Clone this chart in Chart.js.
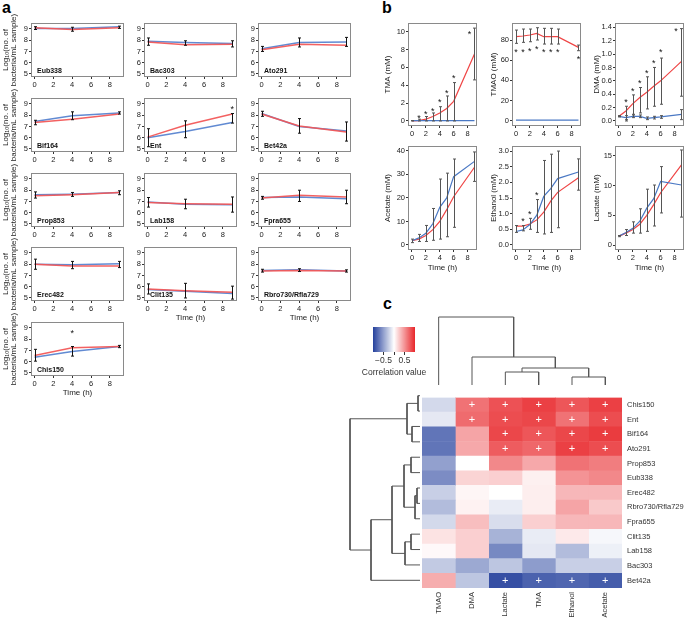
<!DOCTYPE html>
<html><head><meta charset="utf-8">
<script src="https://cdn.jsdelivr.net/npm/chart.js@4.4.1/dist/chart.umd.min.js"></script>
<style>
html,body{margin:0;padding:0;background:#fff;}
#root{position:relative;width:685px;height:618px;overflow:hidden;font-family:"Liberation Sans",Arial,sans-serif;}
.plabel{position:absolute;font-weight:bold;font-size:16px;line-height:16px;color:#000;}
canvas{position:absolute;}
</style></head><body><div id="root">
<div class="plabel" style="left:2px;top:0px">a</div>
<div class="plabel" style="left:382px;top:0px">b</div>
<div class="plabel" style="left:383px;top:296px">c</div>
</div>
<script>
// ================= DATA =================
// ---- Panel a: bacterial counts, log10(no. of bacteria/mL sample) ----
const timeA = [0, 4, 9];
const taxaA = ['Eub338','Bac303','Ato291','Bif164','Ent','Bet42a','Prop853','Lab158','Fpra655','Erec482','Clit135','Rbro730/Rfla729','Chis150'];
const countsRed = [
  [9.1, 8.95, 9.1], [7.85, 7.6, 7.65], [7.15, 7.65, 7.55], [7.35, 7.65, 8.1], [6.05, 7.1, 8.1],
  [8.1, 7.05, 6.5], [7.5, 7.6, 7.8], [6.9, 6.8, 6.75], [7.3, 7.55, 7.4], [8.0, 7.85, 7.85],
  [5.8, 5.65, 5.5], [7.4, 7.45, 7.4], [6.55, 7.25, 7.35]];
const countsBlue = [
  [9.05, 9.05, 9.2], [7.9, 7.8, 7.7], [7.25, 7.8, 7.85], [7.45, 7.95, 8.2], [6.0, 6.55, 7.35],
  [8.15, 7.0, 6.6], [7.6, 7.65, 7.8], [6.95, 6.75, 6.7], [7.35, 7.4, 7.25], [8.0, 7.95, 8.05],
  [5.75, 5.6, 5.4], [7.45, 7.5, 7.4], [6.4, 6.9, 7.35]];
const countsLo = [
  [8.95, 8.8, 9.05], [7.55, 7.55, 7.4], [7.0, 7.4, 7.45], [7.15, 7.6, 8.1], [5.2, 6.0, 7.3],
  [7.9, 6.4, 5.7], [7.3, 7.45, 7.6], [6.5, 6.35, 6.05], [7.2, 7.0, 6.8], [7.55, 7.6, 7.7],
  [5.35, 5.0, 4.9], [7.3, 7.35, 7.3], [6.05, 6.5, 7.25]];
const countsHi = [
  [9.2, 9.15, 9.25], [8.2, 7.95, 7.95], [7.45, 8.2, 8.25], [7.55, 8.3, 8.3], [6.8, 7.5, 8.15],
  [8.35, 7.7, 7.4], [7.85, 7.8, 7.95], [7.35, 7.2, 7.4], [7.45, 8.0, 8.0], [8.45, 8.25, 8.25],
  [6.25, 6.3, 6.05], [7.55, 7.6, 7.5], [7.1, 7.35, 7.45]];
const starTaxaA = ['Ent', 'Chis150'];
const starTimeA = [9, 4];
const starValA = [8.7, 8.7];
const xTicksA = [0, 2, 4, 6, 8];
const yTicksA = [5, 6, 7, 8, 9];

// ---- Panel b: metabolites (mM) ----
const timeB = [0, 1, 2, 3, 4, 5, 6, 9];
const xTicksB = [0, 2, 4, 6, 8];
const tmaRed  = [0, 0.05, 0.2, 0.5, 0.9, 1.4, 2.2, 7.5];
const tmaBlue = [0.05, 0.05, 0.05, 0.05, 0.05, 0.05, 0.05, 0.05];
const tmaLo   = [0, 0, 0, 0, 0, 0, 0, 4.6];
const tmaHi   = [0.05, 0.2, 0.5, 0.9, 1.6, 2.8, 4.3, 10.4];
const tmaStarT = [1, 2, 3, 4, 5, 6, 8.3];
const tmaStarY = [0.6, 0.95, 1.35, 2.3, 3.4, 5.0, 10.0];
const tmaTicks = [0, 2, 4, 6, 8, 10];

const tmaoRed  = [83.3, 84, 85, 86.6, 83.3, 83.3, 83.3, 72.7];
const tmaoBlue = [0.5, 0.5, 0.5, 0.5, 0.5, 0.5, 0.5, 0.5];
const tmaoLo   = [76.7, 77.7, 78.3, 80, 76, 76, 76, 69.4];
const tmaoHi   = [89.9, 90.9, 90.9, 92.2, 91.6, 91.6, 90.9, 75];
const tmaoStarT = [0, 1, 2, 3, 4, 5, 6, 9];
const tmaoStarY = [70, 70, 71, 73.4, 70, 70, 70, 62.8];
const tmaoTicks = [0, 20, 40, 60, 80];

const dmaRed  = [0.07, 0.15, 0.26, 0.35, 0.43, 0.52, 0.6, 0.89];
const dmaBlue = [0.07, 0.05, 0.07, 0.07, 0.04, 0.05, 0.06, 0.1];
const dmaLo   = [0.07, 0.0, 0.1, 0.12, 0.18, 0.22, 0.25, 0.37];
const dmaHi   = [0.07, 0.22, 0.39, 0.5, 0.66, 0.8, 0.94, 1.38];
const dmaBlueLo = [0.06, 0.02, 0.05, 0.05, 0.02, 0.03, 0.04, 0.02];
const dmaBlueHi = [0.08, 0.08, 0.09, 0.09, 0.06, 0.07, 0.08, 0.17];
const dmaStarT = [1, 2, 3, 4, 5, 6, 8.2];
const dmaStarY = [0.31, 0.48, 0.6, 0.75, 0.9, 1.06, 1.37];
const dmaTicks = [0, 0.2, 0.4, 0.6, 0.8, 1.0, 1.2, 1.4];

const acetateRed  = [1.8, 2.5, 4, 6.5, 10, 15, 20.5, 33];
const acetateBlue = [1.8, 3, 5, 9, 16, 20, 29, 35.5];
const acetateLo   = [1, 1.5, 1.5, 2, 2.5, 3.5, 7.5, 27];
const acetateHi   = [2.5, 4.5, 8.3, 15.5, 28, 30.5, 36.5, 39.5];
const acetateTicks = [0, 10, 20, 30, 40];

const ethanolRed  = [0.6, 0.6, 0.67, 0.8, 1.05, 1.4, 1.68, 2.15];
const ethanolBlue = [0.43, 0.48, 0.65, 0.95, 1.55, 1.8, 2.12, 2.33];
const ethanolLo   = [0.4, 0.45, 0.5, 0.4, 0.35, 0.4, 0.55, 1.75];
const ethanolHi   = [0.62, 0.62, 0.85, 1.45, 2.7, 2.9, 3.0, 2.75];
const ethanolStarT = [1, 2, 3];
const ethanolStarY = [0.83, 1.05, 1.65];
const ethanolTicks = [0, 0.5, 1.0, 1.5, 2.0, 2.5, 3.0];

const lactateRed  = [1.5, 2, 2.6, 3.5, 5, 6.8, 8.8, 13.5];
const lactateBlue = [1.5, 2.1, 2.8, 4, 6.2, 7.8, 10.7, 10.1];
const lactateLo   = [1.4, 1.6, 2, 2, 2.3, 3.2, 5.4, 4.7];
const lactateHi   = [1.6, 2.6, 3.9, 6.1, 9.4, 10.1, 13.2, 16];
const lactateTicks = [0, 5, 10, 15];

// ---- Panel c: correlation heatmap ----
const rowNamesC = ['Chis150','Ent','Bif164','Ato291','Prop853','Eub338','Erec482','Rbro730/Rfla729','Fpra655','Clit135','Lab158','Bac303','Bet42a'];
const colNamesC = ['TMAO','DMA','Lactate','TMA','Ethanol','Acetate'];
const corrTMAO    = [-0.2, -0.12, -0.72, -0.72, -0.5, -0.6, -0.25, -0.35, -0.2, 0.13, 0.03, -0.28, 0.38];
const corrDMA     = [0.65, 0.68, 0.42, 0.4, 0.0, 0.2, 0.04, 0.06, 0.3, 0.22, 0.22, -0.45, -0.3];
const corrLactate = [0.8, 0.82, 0.85, 0.75, 0.55, 0.22, 0.0, -0.1, -0.18, -0.4, -0.62, -0.3, -0.92];
const corrTMA     = [0.88, 0.85, 0.78, 0.7, 0.4, 0.07, 0.08, 0.08, 0.22, -0.1, -0.12, -0.52, -0.82];
const corrEthanol = [0.78, 0.65, 0.85, 0.88, 0.65, 0.5, 0.33, 0.42, 0.33, 0.1, -0.35, -0.25, -0.8];
const corrAcetate = [0.88, 0.82, 0.9, 0.82, 0.6, 0.55, 0.33, 0.25, 0.33, -0.04, -0.08, -0.25, -0.85];
const sigTMAO    = [0,0,0,0,0,0,0,0,0,0,0,0,0];
const sigDMA     = [1,1,0,0,0,0,0,0,0,0,0,0,0];
const sigLactate = [1,1,1,1,0,0,0,0,0,0,0,0,1];
const sigTMA     = [1,1,1,1,0,0,0,0,0,0,0,0,1];
const sigEthanol = [1,1,1,1,0,0,0,0,0,0,0,0,1];
const sigAcetate = [1,1,1,1,0,0,0,0,0,0,0,0,1];
// dendrograms: [left, right, height]; negative = leaf (1-based), positive = earlier merge (1-based)
const rowMerges = [[-1,-2,2],[-3,-4,8],[1,2,13],[-7,-8,3],[4,-9,5],[-5,-6,9],[6,5,16],[-10,-11,9],[8,-12,15],[7,9,28],[10,-13,49],[3,11,70]];
const colMerges = [[-3,-4,13],[-5,-6,8],[1,2,17],[-2,3,28],[-1,4,68]];
const legendTicks = [-0.5, 0, 0.5];

// ================= DRAWING =================
const FONT = '"Liberation Sans", Arial, sans-serif';
Chart.defaults.font.family = FONT;
Chart.defaults.color = '#222';
const root = document.getElementById('root');
function addChart(left, top, width, height, config) {
  const c = document.createElement('canvas');
  c.width = width; c.height = height;
  c.style.left = left + 'px'; c.style.top = top + 'px';
  c.style.width = width + 'px'; c.style.height = height + 'px';
  root.appendChild(c);
  config.options = Object.assign({responsive: false, animation: false, maintainAspectRatio: false, devicePixelRatio: 1}, config.options || {});
  return new Chart(c, config);
}

const RED_A = 'rgba(242,88,88,0.95)', BLUE_A = 'rgba(88,132,208,0.95)';
const RED_B = '#ef4545', BLUE_B = '#4a78c4';

function framePlot(p) {
  const pt = p.pt || 8, pr = 8;
  const cl = p.left - p.ml, ct = p.top - pt;
  const cw = p.w + p.ml + pr, ch = p.h + pt + p.mb;
  const extras = {
    id: 'extras',
    beforeDatasetsDraw(chart) {
      const {ctx, chartArea: a} = chart;
      ctx.save(); ctx.strokeStyle = '#8a8a8a'; ctx.lineWidth = 1;
      ctx.strokeRect(Math.round(a.left) - 0.5, Math.round(a.top) - 0.5, Math.round(a.right - a.left) + 1, Math.round(a.bottom - a.top) + 1);
      ctx.restore();
    },
    afterDatasetsDraw(chart) {
      const {ctx, scales: {x, y}, chartArea: a} = chart;
      ctx.save();
      (p.errs || []).forEach(e => {
        ctx.strokeStyle = e.color; ctx.lineWidth = 1;
        e.x.forEach((t, k) => {
          const px = Math.round(x.getPixelForValue(t)) + 0.5;
          const y1 = y.getPixelForValue(e.lo[k]), y2 = y.getPixelForValue(e.hi[k]);
          ctx.beginPath(); ctx.moveTo(px, y1); ctx.lineTo(px, y2);
          ctx.moveTo(px - e.cap, y1); ctx.lineTo(px + e.cap, y1);
          ctx.moveTo(px - e.cap, y2); ctx.lineTo(px + e.cap, y2);
          ctx.stroke();
        });
      });
      if (p.stars) {
        ctx.fillStyle = '#111'; ctx.font = '9px ' + FONT;
        ctx.textAlign = 'center'; ctx.textBaseline = 'alphabetic';
        p.stars.x.forEach((t, k) => ctx.fillText('*', x.getPixelForValue(t), y.getPixelForValue(p.stars.y[k]) + 5));
      }
      if (p.label) {
        ctx.fillStyle = '#111'; ctx.font = 'bold 7px ' + FONT;
        ctx.textAlign = 'left'; ctx.textBaseline = 'alphabetic';
        ctx.fillText(p.label, a.left + 5, a.bottom - 3);
      }
      if (p.yTitleLines) {
        // free (uncompressed) multi-line rotated axis title
        ctx.fillStyle = '#222'; ctx.font = '8px ' + FONT;
        ctx.textAlign = 'center'; ctx.textBaseline = 'middle';
        p.yTitleLines.forEach((line, k) => {
          ctx.save();
          ctx.translate(y.left + 5.5 + k * 8, (a.top + a.bottom) / 2);
          ctx.rotate(-Math.PI / 2);
          ctx.fillText(line, 0, 0);
          ctx.restore();
        });
      }
      ctx.restore();
    }
  };
  const tickFont = {size: 7.5};
  return addChart(cl, ct, cw, ch, {
    type: 'scatter',
    data: {datasets: p.datasets},
    options: {
      layout: {padding: {top: pt, right: pr, left: 0, bottom: 0}},
      plugins: {legend: {display: false}, tooltip: {enabled: false}},
      scales: {
        x: {type: 'linear', min: p.xMin, max: p.xMax,
          afterBuildTicks: s => { s.ticks = p.xTicks.map(v => ({value: v})); },
          afterFit: s => { s.height = p.mb; },
          ticks: {font: tickFont, color: '#222', padding: 1, maxRotation: 0, autoSkip: false},
          grid: {drawOnChartArea: false, drawTicks: true, tickLength: 3, tickColor: '#333'},
          border: {display: false},
          title: {display: !!p.xTitle, text: p.xTitle || '', font: {size: 8, lineHeight: 1.2}, color: '#222', padding: {top: 0, bottom: 0}}},
        y: {type: 'linear', min: p.yMin, max: p.yMax,
          afterBuildTicks: s => { s.ticks = p.yTicks.map(v => ({value: v})); },
          afterFit: s => { s.width = p.ml; },
          ticks: {font: tickFont, color: '#222', padding: 1, autoSkip: false, callback: p.yFmt || (v => String(v))},
          grid: {drawOnChartArea: false, drawTicks: true, tickLength: 3, tickColor: '#333'},
          border: {display: false},
          title: {display: !!p.yTitle, text: p.yTitle || '', font: {size: 8, lineHeight: p.yLH || 1.2}, color: '#222', padding: {top: p.yPad || 0, bottom: 0}}}
      }
    },
    plugins: [extras]
  });
}

function lineDS(xs, ys, color, width) {
  return {data: xs.map((t, k) => ({x: t, y: ys[k]})), showLine: true, borderColor: color, backgroundColor: color,
          borderWidth: width, pointRadius: 0, clip: false};
}

// ---- Panel a ----
const colLeftA = [32, 145, 259], rowTopA = [24, 99, 174, 248, 323];
taxaA.forEach((name, i) => {
  const row = Math.floor(i / 3), col = i % 3;
  const hasXTitle = (i >= 10);
  const si = starTaxaA.indexOf(name);
  framePlot({
    left: colLeftA[col], top: rowTopA[row], w: 91, h: 52, pt: 18,
    ml: col === 0 ? 32 : 20, mb: hasXTitle ? 23 : 14,
    xMin: -0.27, xMax: 9.4, yMin: 4.82, yMax: 9.44,
    xTicks: xTicksA, yTicks: yTicksA,
    xTitle: hasXTitle ? 'Time (h)' : null,
    yTitleLines: col === 0 ? ['Log\u2081\u2080(no. of', 'bacteria/mL sample)'] : null,
    label: name,
    datasets: [lineDS(timeA, countsRed[i], RED_A, 1.5), lineDS(timeA, countsBlue[i], BLUE_A, 1.5)],
    errs: [{x: timeA, lo: countsLo[i], hi: countsHi[i], color: '#111', cap: 1.5}],
    stars: si >= 0 ? {x: [starTimeA[si]], y: [starValA[si]]} : null
  });
});

// ---- Panel b ----
const fmt1 = v => v.toFixed(1);
const panelB = [
  {title: 'TMA (mM)', red: tmaRed, blue: tmaBlue, lo: tmaLo, hi: tmaHi, st: [tmaStarT, tmaStarY], yMin: -0.45, yMax: 10.86, ticks: tmaTicks},
  {title: 'TMAO (mM)', red: tmaoRed, blue: tmaoBlue, lo: tmaoLo, hi: tmaoHi, st: [tmaoStarT, tmaoStarY], yMin: -4.3, yMax: 95.9, ticks: tmaoTicks},
  {title: 'DMA (mM)', red: dmaRed, blue: dmaBlue, lo: dmaLo, hi: dmaHi, blo: dmaBlueLo, bhi: dmaBlueHi, st: [dmaStarT, dmaStarY], yMin: -0.06, yMax: 1.449, ticks: dmaTicks, fmt: fmt1},
  {title: 'Acetate (mM)', red: acetateRed, blue: acetateBlue, lo: acetateLo, hi: acetateHi, st: null, yMin: -1.7, yMax: 41.6, ticks: acetateTicks},
  {title: 'Ethanol (mM)', red: ethanolRed, blue: ethanolBlue, lo: ethanolLo, hi: ethanolHi, st: [ethanolStarT, ethanolStarY], yMin: -0.13, yMax: 3.13, ticks: ethanolTicks, fmt: fmt1},
  {title: 'Lactate (mM)', red: lactateRed, blue: lactateBlue, lo: lactateLo, hi: lactateHi, st: null, yMin: -0.67, yMax: 16.5, ticks: lactateTicks}
];
const colLeftB = [409, 513, 616], rowTopB = [24, 147], rowHB = [101, 102], yPadB = [4, 5.5, 5.5];
panelB.forEach((m, i) => {
  const row = Math.floor(i / 3), col = i % 3;
  const errs = [{x: timeB, lo: m.lo, hi: m.hi, color: '#555', cap: 1.5}];
  if (m.blo) errs.push({x: timeB, lo: m.blo, hi: m.bhi, color: '#555', cap: 1.5});
  framePlot({
    left: colLeftB[col], top: rowTopB[row], w: 67, h: rowHB[row],
    ml: 30, mb: row === 1 ? 24 : 14,
    xMin: -0.43, xMax: 9.22, yMin: m.yMin, yMax: m.yMax,
    xTicks: xTicksB, yTicks: m.ticks, yFmt: m.fmt,
    xTitle: row === 1 ? 'Time (h)' : null,
    yTitle: m.title, yLH: 1.2, yPad: yPadB[col],
    datasets: [lineDS(timeB, m.blue, BLUE_B, 1.2), lineDS(timeB, m.red, RED_B, 1.2)],
    errs: errs,
    stars: m.st ? {x: m.st[0], y: m.st[1]} : null
  });
});

// ---- Panel c ----
function corrColor(v) {
  const lo = [36, 64, 156], mid = [255, 255, 255], hi = [232, 38, 42];
  const t = Math.max(-1, Math.min(1, v));
  const end = t < 0 ? lo : hi, f = Math.abs(t);
  return 'rgb(' + mid.map((m, k) => Math.round(m + (end[k] - m) * f)).join(',') + ')';
}
const corrCols = [corrTMAO, corrDMA, corrLactate, corrTMA, corrEthanol, corrAcetate];
const sigCols = [sigTMAO, sigDMA, sigLactate, sigTMA, sigEthanol, sigAcetate];

const plusPlugin = {
  id: 'plus',
  afterDatasetsDraw(chart) {
    const ctx = chart.ctx;
    ctx.save(); ctx.fillStyle = '#fff'; ctx.font = '11px ' + FONT;
    ctx.textAlign = 'center'; ctx.textBaseline = 'middle';
    sigCols.forEach((sig, j) => {
      const meta = chart.getDatasetMeta(j);
      sig.forEach((s, i) => {
        if (!s) return;
        const el = meta.data[i];
        ctx.fillText('+', (el.x + el.base) / 2, el.y);
      });
    });
    ctx.restore();
  }
};
addChart(422, 388, 263, 230, {
  type: 'bar',
  data: {
    labels: rowNamesC,
    datasets: colNamesC.map((c, j) => ({
      label: c, data: rowNamesC.map(() => 1),
      backgroundColor: corrCols[j].map(corrColor),
      borderWidth: 0, barPercentage: 1, categoryPercentage: 1
    }))
  },
  options: {
    indexAxis: 'y',
    layout: {padding: 0},
    plugins: {legend: {display: false}, tooltip: {enabled: false}},
    scales: {
      x: {type: 'linear', stacked: true, min: 0, max: 6,
        afterBuildTicks: s => { s.ticks = colNamesC.map((c, j) => ({value: j + 0.5})); },
        afterFit: s => { s.height = 30; },
        ticks: {font: {size: 7.5}, color: '#333', padding: 4, minRotation: 90, maxRotation: 90, autoSkip: false,
                callback: (v, i) => colNamesC[i]},
        grid: {display: false, drawTicks: false}, border: {display: false}},
      y: {stacked: true, position: 'right',
        afterFit: s => { s.width = 63; },
        ticks: {font: {size: 7.5}, color: '#333', padding: 5, autoSkip: false},
        grid: {display: false, drawTicks: false}, border: {display: false}}
    }
  },
  plugins: [plusPlugin]
});

function dendroDatasets(merges, horizontal) {
  const pos = [], hgt = [], out = [];
  const info = r => r < 0 ? {p: -r - 1, h: 0} : {p: pos[r - 1], h: hgt[r - 1]};
  merges.forEach(([a, b, h]) => {
    const A = info(a), B = info(b);
    pos.push((A.p + B.p) / 2); hgt.push(h);
    const pts = horizontal
      ? [{x: A.h, y: A.p}, {x: h, y: A.p}, {x: h, y: B.p}, {x: B.h, y: B.p}]
      : [{x: A.p, y: A.h}, {x: A.p, y: h}, {x: B.p, y: h}, {x: B.p, y: B.h}];
    out.push({data: pts, showLine: true, borderColor: '#555', borderWidth: 1, pointRadius: 0, clip: false, tension: 0});
  });
  return out;
}
const noAxis = {display: false};
// row dendrogram
addChart(346, 388, 74, 200, {
  type: 'scatter',
  data: {datasets: dendroDatasets(rowMerges, true)},
  options: {
    layout: {padding: 0},
    plugins: {legend: {display: false}, tooltip: {enabled: false}},
    scales: {x: Object.assign({type: 'linear', min: 0, max: 74, reverse: true}, noAxis),
             y: Object.assign({type: 'linear', min: -0.5, max: 12.5, reverse: true}, noAxis)}
  }
});
// column dendrogram
addChart(422, 312, 200, 73, {
  type: 'scatter',
  data: {datasets: dendroDatasets(colMerges, false)},
  options: {
    layout: {padding: 0},
    plugins: {legend: {display: false}, tooltip: {enabled: false}},
    scales: {x: Object.assign({type: 'linear', min: -0.5, max: 5.5}, noAxis),
             y: Object.assign({type: 'linear', min: 0, max: 73}, noAxis)}
  }
});
// colour legend
const legendTitlePlugin = {
  id: 'legendTitle',
  afterDraw(chart) {
    const {ctx, chartArea: a} = chart;
    ctx.save(); ctx.fillStyle = '#333'; ctx.font = '8.5px ' + FONT;
    ctx.textAlign = 'center'; ctx.textBaseline = 'middle';
    ctx.fillText('Correlation value', (a.left + a.right) / 2, a.bottom + 21);
    ctx.restore();
  }
};
addChart(350, 327, 88, 54, {
  type: 'bar',
  data: {labels: [''], datasets: [{
    data: [[-1, 1]], borderWidth: 0, barPercentage: 1, categoryPercentage: 1,
    backgroundColor: (c) => {
      const ch = c.chart, xs = ch.scales.x;
      if (!ch.chartArea || !xs) return '#fff';
      const g = ch.ctx.createLinearGradient(xs.getPixelForValue(-1), 0, xs.getPixelForValue(1), 0);
      for (let k = 0; k <= 20; k++) { const v = -1 + k * 0.1; g.addColorStop(k / 20, corrColor(v)); }
      return g;
    }
  }]},
  options: {
    indexAxis: 'y',
    layout: {padding: {left: 23, right: 23, top: 0, bottom: 0}},
    plugins: {legend: {display: false}, tooltip: {enabled: false}},
    scales: {
      x: {type: 'linear', min: -1, max: 1,
        afterBuildTicks: s => { s.ticks = legendTicks.map(v => ({value: v})); },
        afterFit: s => { s.height = 29; },
        ticks: {font: {size: 8.5}, color: '#333', padding: 1, autoSkip: false, maxRotation: 0,
                callback: v => v === 0 ? '' : (v < 0 ? '\u22120.5' : '0.5')},
        grid: {drawOnChartArea: false, drawTicks: true, tickLength: 3, tickColor: '#333'},
        border: {display: false}},
      y: {display: false}
    }
  },
  plugins: [legendTitlePlugin]
});
</script></body></html>
